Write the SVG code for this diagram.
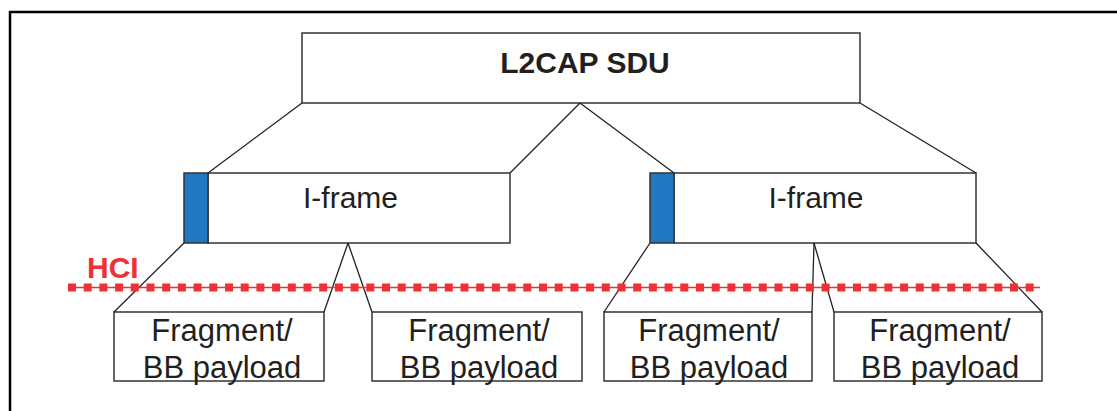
<svg xmlns="http://www.w3.org/2000/svg" width="1117" height="411" viewBox="0 0 1117 411">
<style>
.box{fill:#fff;stroke:#333;stroke-width:1.5}
.hdr{fill:#1f78c1;stroke:#333;stroke-width:1.5}
.con{fill:none;stroke:#222;stroke-width:1.3}
.t{font-family:"Liberation Sans",Arial,sans-serif;font-size:30px;fill:#231f20;text-anchor:middle}
.f{font-size:31px}
.b{font-weight:bold}
</style>
<rect width="1117" height="411" fill="#fff"/>
<path d="M10,411 V12 H1117" fill="none" stroke="#000" stroke-width="2.5"/>
<g id="sdu">
<rect class="box" x="302" y="33" width="558" height="70"/>
<text class="t b" x="585" y="73">L2CAP SDU</text>
</g>
<g id="iframe1">
<rect class="box" x="208" y="173" width="302" height="70"/>
<rect class="hdr" x="184" y="173" width="24" height="70"/>
<text class="t" x="350.5" y="208">I-frame</text>
</g>
<g id="iframe2">
<rect class="box" x="674" y="173" width="302" height="70"/>
<rect class="hdr" x="650" y="173" width="24" height="70"/>
<text class="t" x="816" y="208">I-frame</text>
</g>
<g id="frag1">
<rect class="box" x="114" y="312" width="210" height="69"/>
<text class="t f" x="222" y="340.5">Fragment/</text>
<text class="t f" x="222" y="377.5">BB payload</text>
</g>
<g id="frag2">
<rect class="box" x="372" y="312" width="210" height="69"/>
<text class="t f" x="479" y="340.5">Fragment/</text>
<text class="t f" x="479" y="377.5">BB payload</text>
</g>
<g id="frag3">
<rect class="box" x="604" y="312" width="208" height="69"/>
<text class="t f" x="709" y="340.5">Fragment/</text>
<text class="t f" x="709" y="377.5">BB payload</text>
</g>
<g id="frag4">
<rect class="box" x="834" y="312" width="208" height="69"/>
<text class="t f" x="940" y="340.5">Fragment/</text>
<text class="t f" x="940" y="377.5">BB payload</text>
</g>
<g id="connectors">
<path class="con" d="M302,103 L208,173"/>
<path class="con" d="M580,103 L510,173"/>
<path class="con" d="M580,103 L674,173"/>
<path class="con" d="M860,103 L976,173"/>
<path class="con" d="M184,243 L114,312"/>
<path class="con" d="M348,243 L324,312"/>
<path class="con" d="M348,243 L372,312"/>
<path class="con" d="M650,243 L604,312"/>
<path class="con" d="M814,243 L812,312"/>
<path class="con" d="M814,243 L834,312"/>
<path class="con" d="M976,243 L1042,312"/>
</g>
<g id="hci">
<line x1="68" y1="287.5" x2="1040" y2="287.5" stroke="#ee3134" stroke-width="1.5"/>
<line x1="68" y1="287.5" x2="1040" y2="287.5" stroke="#ee3134" stroke-width="8" stroke-dasharray="8 7.7"/>
<text x="87" y="278" font-family="'Liberation Sans',Arial,sans-serif" font-size="30" font-weight="bold" fill="#ee3134">HCI</text>
</g>
</svg>
